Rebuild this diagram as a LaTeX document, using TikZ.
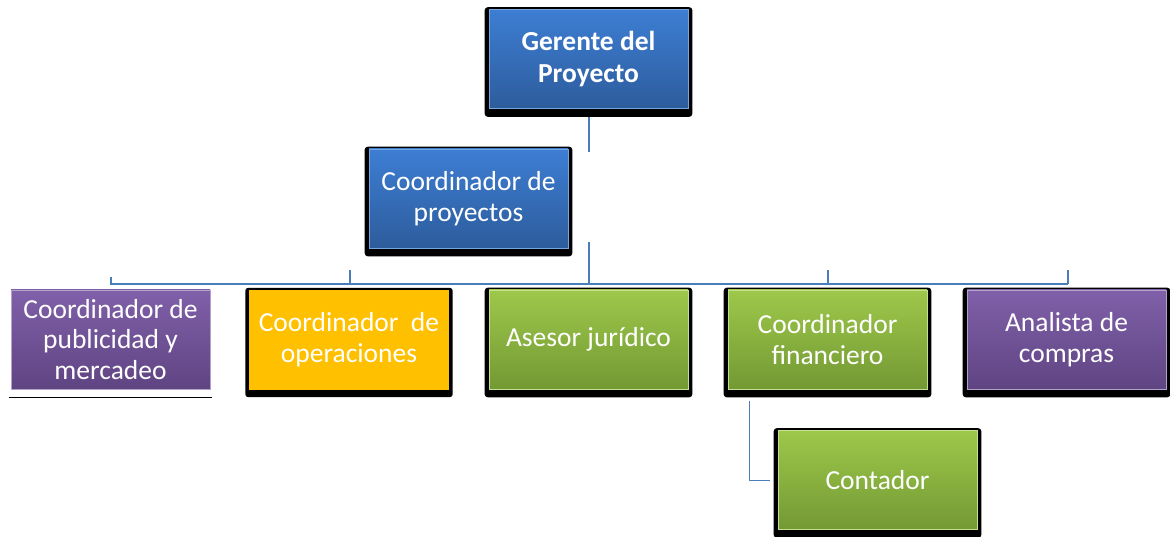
\documentclass[tikz,border=0pt]{standalone}
\usepackage{fontspec}
\setmainfont{Carlito}
\usetikzlibrary{backgrounds,calc}
\definecolor{lineblue}{HTML}{4A7EBB}
\definecolor{bluetop}{HTML}{3D7ED3}
\definecolor{bluebot}{HTML}{2D5C9C}
\definecolor{greentop}{HTML}{9DC84A}
\definecolor{greenbot}{HTML}{739934}
\definecolor{purptop}{HTML}{8060A9}
\definecolor{purpbot}{HTML}{5F4482}
\definecolor{orangefill}{HTML}{FFC000}
\tikzset{
  x=1pt, y=-1pt,
  box/.style={minimum width=199pt, minimum height=99pt, inner sep=2pt,
    align=center, text=white, font=\fontsize{27.5}{30.5}\selectfont},
  bluebox/.style={box, top color=bluetop, bottom color=bluebot, draw=bluetop!70!white, line width=0.6pt},
  greenbox/.style={box, top color=greentop, bottom color=greenbot, draw=greentop!60!white, line width=0.6pt},
  purpbox/.style={box, top color=purptop, bottom color=purpbot, draw=purptop!60!white, line width=0.6pt},
  orangebox/.style={box, fill=orangefill, draw=orangefill},
  conn/.style={draw=lineblue, line width=1.2pt},
}
\newcommand{\shadowbox}[1]{%
  \begin{pgfonlayer}{background}
    \fill[black, rounded corners=3pt] ($(#1.north west)+(-4,-2)$) rectangle ($(#1.south east)+(4,8)$);
  \end{pgfonlayer}}
\begin{document}
\begin{tikzpicture}
\useasboundingbox (0,0) rectangle (1170,537);
\node[bluebox, font=\fontsize{27.5}{32}\selectfont\bfseries] (ger) at (588.5,59) {Gerente del\\Proyecto};
\shadowbox{ger}
\node[bluebox] (cp) at (468.5,198.5) {Coordinador de\\proyectos};
\shadowbox{cp}
\node[purpbox] (pub) at (110.5,339.5) {Coordinador de\\publicidad y\\mercadeo};
\node[orangebox] (ope) at (349,339.5) {Coordinador\ \ de\\operaciones};
\shadowbox{ope}
\node[greenbox] (ase) at (588.5,339.5) {Asesor jurídico};
\shadowbox{ase}
\node[greenbox] (fin) at (827.5,339.5) {Coordinador\\financiero};
\shadowbox{fin}
\node[purpbox] (ana) at (1066.5,339.5) {Analista de\\compras};
\shadowbox{ana}
\node[greenbox] (con) at (877.5,480) {Contador};
\shadowbox{con}
\draw[black, line width=1.5pt] ($(pub.south west)+(-2,8)$) -- ($(pub.south east)+(2,8)$);
% connectors
\coordinate (g1) at (589,152);
\coordinate (c1) at (589,242);
\coordinate (bus) at (589,270);
\coordinate (d1) at (111,277);
\coordinate (d2) at (350,284);
\coordinate (d3) at (589,284);
\coordinate (d4) at (828,284);
\coordinate (d5) at (1068,284);
\draw[conn] ($(ger.south)+(0.5,8)$) -- (g1);
\draw[conn] (c1) -- (bus);
\draw[conn] (d1) |- (d5);
\draw[conn] (d2) -- (d2 |- bus);
\draw[conn] (d3) -- (d3 |- bus);
\draw[conn] (d4) -- (d4 |- bus);
\draw[conn] (d5) -- (d5 |- bus);
\draw[conn, line width=1pt] (749,401) |- ($(con.west)+(-8,0)$);
\end{tikzpicture}
\end{document}
